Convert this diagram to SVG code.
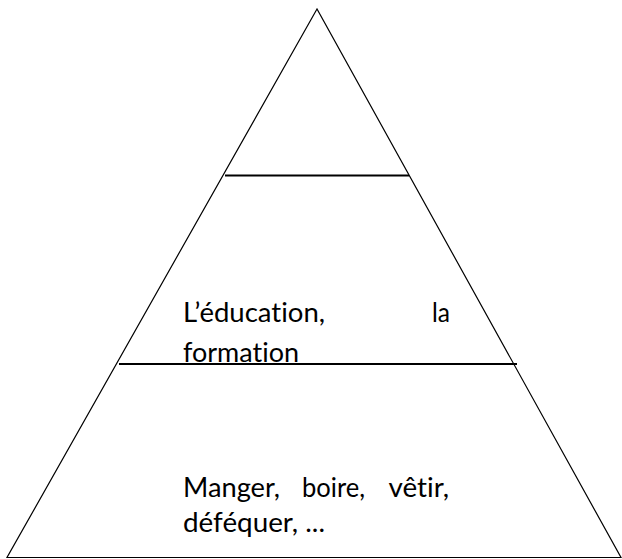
<svg xmlns="http://www.w3.org/2000/svg" width="622" height="559" viewBox="0 0 622 559">
<style>
.t{font-family:Lato,"Open Sans","Liberation Sans",sans-serif;font-size:27px;fill:#000;font-variant-ligatures:none}
.edge{fill:none;stroke:#000;stroke-width:1.2}
.sep{stroke:#000;stroke-width:2.2}
</style>
<rect width="622" height="559" fill="#fff"/>
<g id="pyramid">
<polygon class="edge" points="317,9 7,557.5 621,557.5"/>
</g>
<g id="connectors">
<line class="sep" x1="225" y1="175.5" x2="409" y2="175.5"/>
<line class="sep" x1="119" y1="364" x2="517" y2="364"/>
</g>
<g id="level-middle">
<text class="t" x="183" y="322" textLength="142" lengthAdjust="spacingAndGlyphs">L’éducation,</text>
<text class="t" x="432" y="322" textLength="18" lengthAdjust="spacingAndGlyphs">la</text>
<text class="t" x="183" y="362" textLength="116" lengthAdjust="spacingAndGlyphs">formation</text>
</g>
<g id="level-base">
<text class="t" x="183" y="497" textLength="97" lengthAdjust="spacingAndGlyphs">Manger,</text>
<text class="t" x="302" y="497" textLength="63" lengthAdjust="spacingAndGlyphs">boire,</text>
<text class="t" x="388.5" y="497" textLength="60.5" lengthAdjust="spacingAndGlyphs">vêtir,</text>
<text class="t" x="183" y="532" textLength="142" lengthAdjust="spacingAndGlyphs">déféquer, ...</text>
</g>
</svg>
